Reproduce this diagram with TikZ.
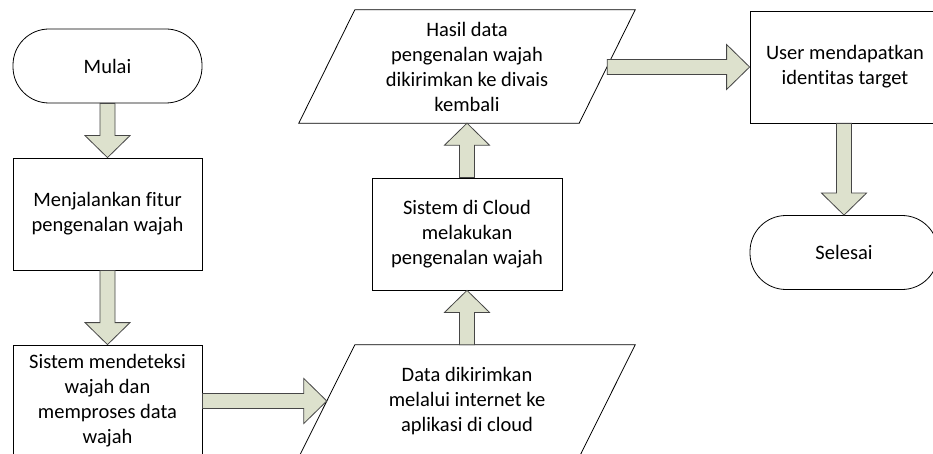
\documentclass[tikz,border=0pt]{standalone}
\usepackage{fontspec}
\setmainfont{Carlito}[Ligatures={NoCommon}]
\usetikzlibrary{calc}

\definecolor{arrowfill}{RGB}{221,225,205}
\definecolor{arrowline}{RGB}{70,70,70}
\newcommand\flowfont{\fontsize{20.5}{25}\selectfont}

\tikzset{
  box/.style={draw=black, line width=0.8pt, fill=white, minimum width=190,
    minimum height=112, inner sep=0pt, align=center, font=\flowfont},
  terminal/.style={box, minimum height=74, rounded corners=36pt},
  % text area of an input/output shape; its outline is drawn by \ioshape
  iotext/.style={minimum width=280, minimum height=112, inner sep=0pt,
    align=center, font=\flowfont},
  outline/.style={draw=black, line width=0.8pt, line join=miter},
  blockarrow/.style={draw=arrowline, fill=arrowfill, line width=0.8pt, line join=miter}
}

% parallelogram round an iotext node (slant of 28 on each side)
\newcommand\ioshape[1]{%
  \draw[outline] ($(#1.north west)+(28,0)$) -- ($(#1.north east)+(28,0)$)
    -- ($(#1.south east)+(-28,0)$) -- ($(#1.south west)+(-28,0)$) -- cycle;}

% block arrows: #1 = start point, #2 = tip
\newcommand\flowdown[2]{%
  \draw[blockarrow] let \p1=(#1), \p2=(#2) in
    (\x2-7.5pt,\y1) -- (\x2+7.5pt,\y1) -- (\x2+7.5pt,\y2+22pt) -- (\x2+22.5pt,\y2+22pt)
    -- (\x2,\y2) -- (\x2-22.5pt,\y2+22pt) -- (\x2-7.5pt,\y2+22pt) -- cycle;}
\newcommand\flowup[2]{%
  \draw[blockarrow] let \p1=(#1), \p2=(#2) in
    (\x2-7.5pt,\y1) -- (\x2+7.5pt,\y1) -- (\x2+7.5pt,\y2-22pt) -- (\x2+22.5pt,\y2-22pt)
    -- (\x2,\y2) -- (\x2-22.5pt,\y2-22pt) -- (\x2-7.5pt,\y2-22pt) -- cycle;}
\newcommand\flowright[2]{%
  \draw[blockarrow] let \p1=(#1), \p2=(#2) in
    (\x1,\y2+7.5pt) -- (\x2-23pt,\y2+7.5pt) -- (\x2-23pt,\y2+22.5pt) -- (\x2,\y2)
    -- (\x2-23pt,\y2-22.5pt) -- (\x2-23pt,\y2-7.5pt) -- (\x1,\y2-7.5pt) -- cycle;}

\begin{document}
\begin{tikzpicture}[x=1pt, y=-1pt]
  \clip (0,0) rectangle (933,454);
  \fill[white] (0,0) rectangle (933,454);

  % left column
  \node[terminal, minimum width=189] (mulai) at (107.5,66) {Mulai};
  \node[box, minimum width=189] (fitur) at (107.5,214) {Menjalankan fitur\\pengenalan wajah};
  \node[box, minimum width=189] (deteksi) at (107.5,401) {Sistem mendeteksi\\wajah dan\\memproses data\\wajah};

  % middle column
  \node[iotext] (kirim) at (467,401) {Data dikirimkan\\melalui internet ke\\aplikasi di cloud};
  \ioshape{kirim}
  \node[box] (cloud) at (467,234) {Sistem di Cloud\\melakukan\\pengenalan wajah};
  \node[iotext, minimum height=113] (hasil) at (467,66.5) {Hasil data\\pengenalan wajah\\dikirimkan ke divais\\kembali};
  \ioshape{hasil}

  % right column
  \node[box] (user) at (845,67) {User mendapatkan\\identitas target};
  \node[terminal, minimum width=188] (selesai) at (844,252.5) {Selesai};

  % connectors
  \flowdown{mulai.south}{fitur.north}
  \flowdown{fitur.south}{deteksi.north}
  \flowright{deteksi.east}{kirim.west}
  \flowup{kirim.north}{cloud.south}
  \flowup{cloud.north}{hasil.south}
  \flowright{hasil.east}{user.west}
  \flowdown{user.south}{selesai.north}
\end{tikzpicture}
\end{document}
